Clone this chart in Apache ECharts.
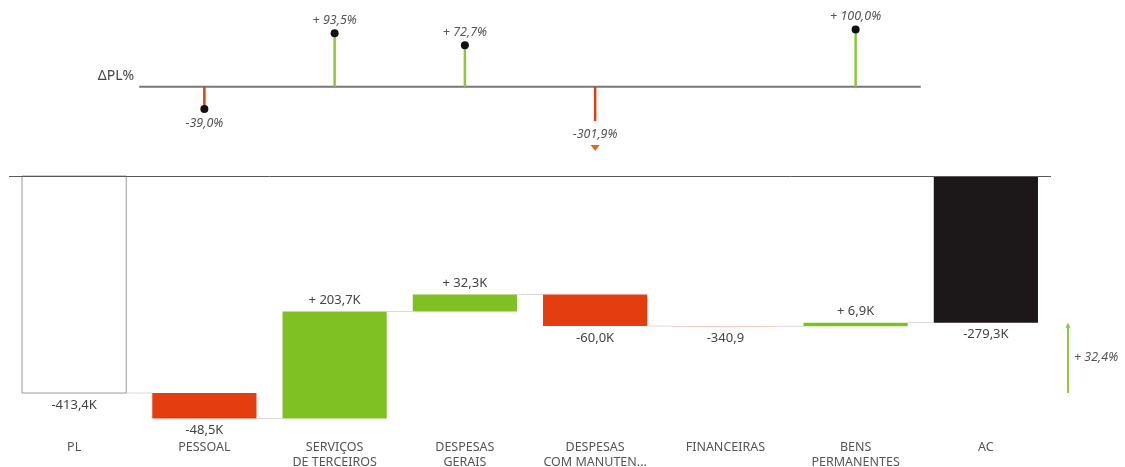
<!DOCTYPE html>
<html>
<head>
<meta charset="utf-8">
<script src="https://cdn.jsdelivr.net/npm/echarts@6/dist/echarts.min.js"></script>
<style>
html,body{margin:0;padding:0;background:#fff;}
#chart{width:1125px;height:467px;}
</style>
</head>
<body>
<div id="chart"></div>
<script>
// ---- data ----
const categories = ['PL','PESSOAL','SERVIÇOS\nDE TERCEIROS','DESPESAS\nGERAIS','DESPESAS\nCOM MANUTEN...','FINANCEIRAS','BENS\nPERMANENTES','AC'];
const startTotal = -413.4;                 // PL (K)
const changes = [-48.5, 203.7, 32.3, -60.0, -0.3409, 6.9]; // K
const endTotal = -279.3;                   // AC (K)
const deltaPlPct = [null, -39.0, 93.5, 72.7, -301.9, null, 100.0, null];
const acVsPlPct = [32.4];

// ---- helpers ----
const RED = '#e33d10', GREEN = '#7fc022', BLACK = '#1c1719';
const FONT = 'Noto Sans';
function fmtK(v, sign){
  let s;
  if (Math.abs(v) < 1) s = (Math.abs(v)*1000).toFixed(1);
  else s = Math.abs(v).toFixed(1) + 'K';
  s = s.replace('.', ',');
  if (v < 0) return '-' + s;
  return (sign ? '+ ' : '') + s;
}
function fmtPct(v){
  const s = Math.abs(v).toFixed(1).replace('.', ',') + '%';
  return (v < 0 ? '-' : '+ ') + s;
}

// waterfall items: [index, from, to, kind, value]
const wf = [];
wf.push([0, 0, startTotal, 0, startTotal]);
let run = startTotal;
changes.forEach((c, k) => {
  wf.push([k+1, run, run + c, 1, c]);
  run += c;
});
wf.push([categories.length-1, 0, endTotal, 2, endTotal]);

// delta pct items for the categories between PL and AC
const pctItems = [];
for (let i = 1; i < categories.length - 1; i++) {
  const v = deltaPlPct[i];
  pctItems.push([i, v === null ? 0 : v, v === null ? 0 : 1]);
}
const PCT_MIN = -60, PCT_MAX = 115;
const VAL_FONT = '13px "' + FONT + '"';
const PCT_FONT = 'italic 12.5px "' + FONT + '"';

const chart = echarts.init(document.getElementById('chart'));
chart.setOption({
  animation: false,
  textStyle: {fontFamily: FONT},
  grid: [
    {left: 9, right: 74, top: 21, height: 100, outerBoundsMode: 'none', containLabel: false},
    {left: 9, right: 74, top: 176, height: 252, outerBoundsMode: 'none', containLabel: false}
  ],
  xAxis: [
    {type: 'category', gridIndex: 0, data: categories, show: false},
    {type: 'category', gridIndex: 1, data: categories,
     axisLine: {show: false}, axisTick: {show: false},
     axisLabel: {color: '#555', fontSize: 12.5, lineHeight: 15, margin: 12, fontFamily: FONT, interval: 0}}
  ],
  yAxis: [
    {type: 'value', gridIndex: 0, min: PCT_MIN, max: PCT_MAX, show: false},
    {type: 'value', gridIndex: 1, min: -480, max: 0, show: false}
  ],
  series: [
    {
      type: 'custom', xAxisIndex: 0, yAxisIndex: 0, silent: true,
      data: pctItems,
      renderItem: function(params, api){
        const i = api.value(0), v = api.value(1), has = api.value(2);
        const c0 = api.coord([i, 0]);
        const bw = api.size([1, 0])[0];
        const ch = [];
        if (i === 1) {
          const cLast = api.coord([categories.length - 2, 0]);
          ch.push({type: 'line', shape: {x1: c0[0]-bw/2, y1: c0[1], x2: cLast[0]+bw/2, y2: c0[1]},
                   style: {stroke: '#78747e', lineWidth: 2}});
          ch.push({type: 'text', style: {text: 'ΔPL%', x: c0[0]-bw/2-5, y: c0[1]-11, align: 'right', verticalAlign: 'middle',
                   fill: '#444', font: '14px "' + FONT + '"'}});
        }
        if (has) {
          const clipped = v < PCT_MIN;
          const ce = api.coord([i, clipped ? PCT_MIN : v]);
          const col = v < 0 ? RED : '#8cc83a';
          ch.push({type: 'line', shape: {x1: c0[0], y1: c0[1], x2: ce[0], y2: ce[1]},
                   style: {stroke: col, lineWidth: 2.5}});
          if (clipped) {
            ch.push({type: 'text', style: {text: fmtPct(v), x: ce[0], y: ce[1]+13, align: 'center', verticalAlign: 'middle',
                     fill: '#555', font: PCT_FONT}});
            ch.push({type: 'polygon', shape: {points: [[ce[0]-4.5, ce[1]+24], [ce[0]+4.5, ce[1]+24], [ce[0], ce[1]+30]]},
                     style: {fill: '#e8641e'}});
          } else {
            ch.push({type: 'circle', shape: {cx: ce[0], cy: ce[1], r: 4}, style: {fill: '#111'}});
            ch.push({type: 'text', style: {text: fmtPct(v), x: ce[0], y: v < 0 ? ce[1]+14 : ce[1]-13, align: 'center', verticalAlign: 'middle',
                     fill: '#555', font: PCT_FONT}});
          }
        }
        return {type: 'group', children: ch};
      }
    },
    {
      type: 'custom', xAxisIndex: 1, yAxisIndex: 1, silent: true,
      data: wf,
      markLine: {
        silent: true, symbol: 'none', label: {show: false},
        lineStyle: {color: '#5a5a5a', width: 1, type: 'solid'},
        data: [{yAxis: 0}]
      },
      renderItem: function(params, api){
        const i = api.value(0), from = api.value(1), to = api.value(2), kind = api.value(3), val = api.value(4);
        const bw = api.size([1, 0])[0];
        const w = bw * 0.8;
        const pf = api.coord([i, from]);
        const pt = api.coord([i, to]);
        const top = Math.min(pf[1], pt[1]), bot = Math.max(pf[1], pt[1]);
        const cx = pf[0];
        const ch = [];
        let fill, stroke = null;
        if (kind === 0) { fill = '#fff'; stroke = '#9a9a9a'; }
        else if (kind === 2) { fill = BLACK; }
        else { fill = val < 0 ? RED : GREEN; }
        if (i < categories.length - 1) {
          ch.push({type: 'line', shape: {x1: cx + w/2, y1: pt[1], x2: cx + bw - w/2, y2: pt[1]},
                   style: {stroke: '#d9d9d9', lineWidth: 1}});
        }
        ch.push({type: 'rect', shape: {x: cx - w/2, y: top, width: w, height: bot - top},
                 style: stroke ? {fill: fill, stroke: stroke, lineWidth: 1} : {fill: fill}});
        const below = (kind !== 1) || val < 0;
        ch.push({type: 'text', style: {text: fmtK(val, kind === 1), x: cx, y: below ? bot + 12 : top - 11,
                 align: 'center', verticalAlign: 'middle', fill: '#444', font: VAL_FONT}});
        if (kind === 2) {
          const pPL = api.coord([i, startTotal]);
          const ax = cx + bw * 0.63;
          const col = acVsPlPct[0] >= 0 ? '#8cc83a' : RED;
          ch.push({type: 'line', shape: {x1: ax, y1: pPL[1], x2: ax, y2: pt[1] + 3},
                   style: {stroke: col, lineWidth: 2}});
          ch.push({type: 'polygon', shape: {points: [[ax-2.5, pt[1]+5], [ax+2.5, pt[1]+5], [ax, pt[1]]]},
                   style: {fill: col}});
          ch.push({type: 'text', style: {text: fmtPct(acVsPlPct[0]), x: ax + 6, y: (pPL[1] + pt[1]) / 2,
                   align: 'left', verticalAlign: 'middle', fill: '#555', font: PCT_FONT}});
        }
        return {type: 'group', children: ch};
      }
    }
  ]
});
</script>
</body>
</html>
